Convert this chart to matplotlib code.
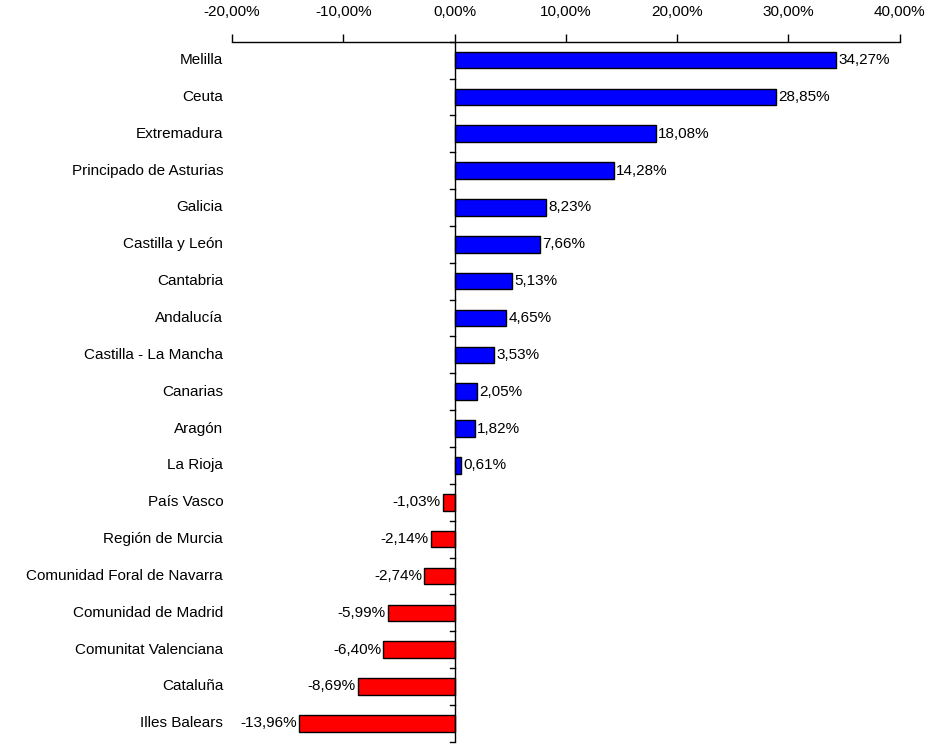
import numpy as np
import matplotlib
matplotlib.use("Agg")
import matplotlib.pyplot as plt

plt.rcParams['font.family'] = ['Liberation Sans', 'DejaVu Sans']

regions = ["Melilla", "Ceuta", "Extremadura", "Principado de Asturias", "Galicia",
           "Castilla y León", "Cantabria", "Andalucía", "Castilla - La Mancha",
           "Canarias", "Aragón", "La Rioja", "País Vasco", "Región de Murcia",
           "Comunidad Foral de Navarra", "Comunidad de Madrid",
           "Comunitat Valenciana", "Cataluña", "Illes Balears"]
values = [34.27, 28.85, 18.08, 14.28, 8.23, 7.66, 5.13, 4.65, 3.53,
          2.05, 1.82, 0.61, -1.03, -2.14, -2.74, -5.99, -6.40, -8.69, -13.96]
xticks = [-20, -10, 0, 10, 20, 30, 40]

fs = 11

fig = plt.figure(figsize=(9.3, 7.44), dpi=100)
ax = fig.add_axes([0.2495, 0.003, 0.718, 0.941])

y = np.arange(len(regions))
colors = ['#0000ff' if v >= 0 else '#ff0000' for v in values]
ax.barh(y, values, height=0.45, color=colors, edgecolor='black', linewidth=1)

for yi, v in zip(y, values):
    txt = f"{v:.2f}".replace('.', ',') + "%"
    if v >= 0:
        ax.text(v + 0.2, yi, txt, va='center', ha='left', fontsize=fs)
    else:
        ax.text(v - 0.2, yi, txt, va='center', ha='right', fontsize=fs)

ax.set_xlim(-20, 40)
ax.set_ylim(len(regions) - 0.5, -0.5)
ax.xaxis.tick_top()
ax.set_xticks(xticks)
ax.set_xticklabels([f"{t:.2f}".replace('.', ',') + "%" for t in xticks], fontsize=fs)
ax.tick_params(axis='x', direction='out', length=6, width=1, pad=10)

# category labels at left of the figure, ticks on the zero line
ax.set_yticks([])
for yi, name in zip(y, regions):
    ax.text(-20.8, yi, name, va='center', ha='right', fontsize=fs)
for b in np.arange(-0.5, len(regions) + 0.5, 1):
    ax.plot([-0.45, 0], [b, b], color='black', linewidth=1, clip_on=False)

for s in ['left', 'right', 'bottom']:
    ax.spines[s].set_visible(False)
ax.spines['top'].set_linewidth(1)
ax.axvline(0, color='black', linewidth=1)

fig.savefig("out.png", dpi=100)
